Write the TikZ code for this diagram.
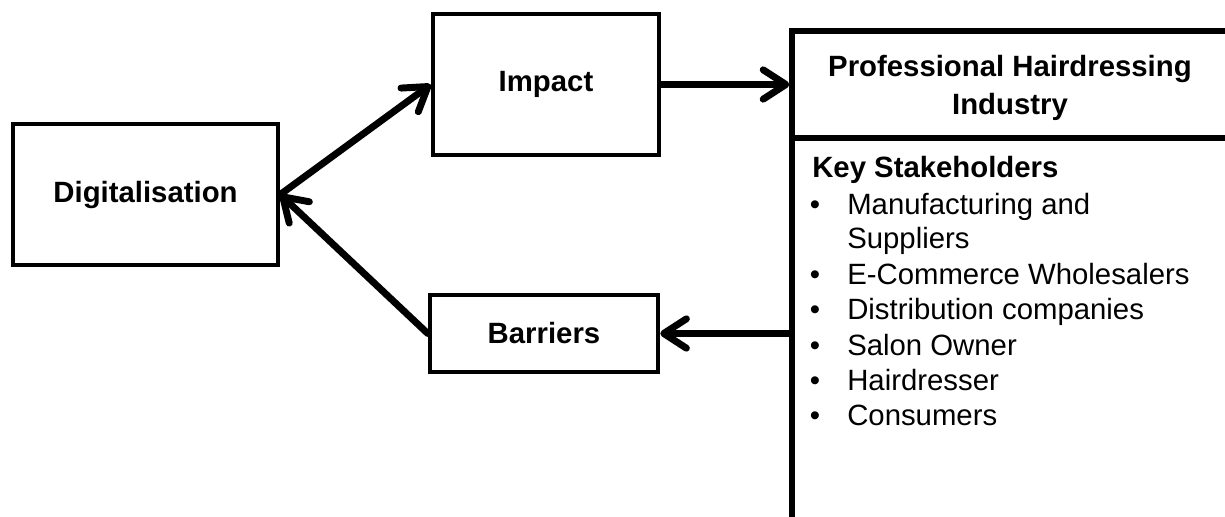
\documentclass[tikz,border=0pt]{standalone}
\usepackage{fontspec}
\setmainfont{Liberation Sans}
\usetikzlibrary{arrows.meta}

\begin{document}
\begin{tikzpicture}[
  x=0.75pt, y=-0.75pt,
  every node/.style={font=\fontsize{22}{28.3}\selectfont},
  box/.style={draw, line width=3.4pt, rectangle, inner sep=0pt, align=center, font=\fontsize{22}{28.3}\selectfont\bfseries},
  bigbox/.style={draw, line width=4pt, rectangle, inner sep=0pt},
  arr/.style={line width=5.2pt, line cap=round, -{Straight Barb[length=17pt,width=22pt,round]}},
  item/.style={anchor=base west, inner sep=0pt},
  dot/.style={anchor=base, inner sep=0pt}
]
\useasboundingbox (0,0) rectangle (1225,517);
\clip (0,0) rectangle (1225,517);

% left column of boxes
\node[box, minimum width=198.75pt, minimum height=105.75pt] (digit) at (145.5,194.5) {Digitalisation};
\node[box, minimum width=169.5pt, minimum height=105.75pt] (impact) at (546,84.5) {Impact};
\node[box, minimum width=171pt, minimum height=57.75pt] (barriers) at (544,333.5) {Barriers};

% industry box: header and stakeholder section
\node[bigbox, minimum width=327pt, minimum height=80.25pt] (industry) at (1010,84.5) {};
\node[bigbox, minimum width=327pt, minimum height=316.5pt] (stake) at (1010,349) {};
\node[align=center, inner sep=0pt, font=\fontsize{22}{29}\selectfont\bfseries] (industrytext) at (1010,88) {Professional Hairdressing\\Industry};

% stakeholder list
\node[item, font=\fontsize{22}{28.3}\selectfont\bfseries] (keyhead) at (812,177) {Key Stakeholders};
\node[dot] (b1) at (815,214) {•};
\node[item] (s1) at (847,214) {Manufacturing and};
\node[item] (s1b) at (847,248) {Suppliers};
\node[dot] (b2) at (815,284) {•};
\node[item] (s2) at (847,284) {E-Commerce Wholesalers};
\node[dot] (b3) at (815,319) {•};
\node[item] (s3) at (847,319) {Distribution companies};
\node[dot] (b4) at (815,355) {•};
\node[item] (s4) at (847,355) {Salon Owner};
\node[dot] (b5) at (815,390) {•};
\node[item] (s5) at (847,390) {Hairdresser};
\node[dot] (b6) at (815,425) {•};
\node[item] (s6) at (847,425) {Consumers};

% connectors
\draw[arr] (digit.east) -- (impact.west);
\draw[arr] (impact.east) -- (industry.west);
\draw[arr] (stake.west |- barriers.east) -- (barriers.east);
\draw[arr] (barriers.west) -- (digit.east);
\end{tikzpicture}
\end{document}
